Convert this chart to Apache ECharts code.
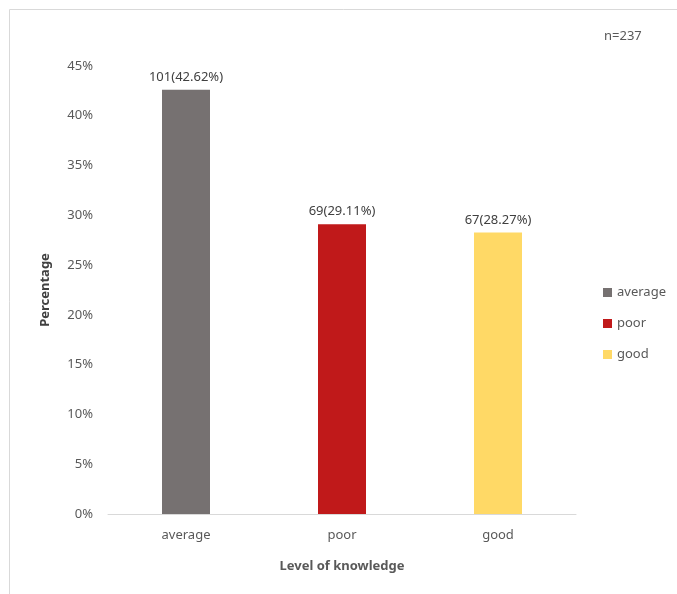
<!DOCTYPE html>
<html>
<head>
<meta charset="utf-8">
<script src="https://cdn.jsdelivr.net/npm/echarts@6/dist/echarts.min.js"></script>
<style>
  html, body { margin: 0; padding: 0; background: #fff; }
  #chart { width: 677px; height: 594px; }
</style>
</head>
<body>
<div id="chart"></div>
<script>
// Knowledge level distribution (n = 237)
const categories = ['average', 'poor', 'good'];
const percentages = [42.62, 29.11, 28.27];
const counts = [101, 69, 67];
const colors = ['#767171', '#C0191A', '#FFD966'];
const yTicks = [0, 5, 10, 15, 20, 25, 30, 35, 40, 45];

const font = "'Noto Sans', 'Liberation Sans', sans-serif";
const textGray = '#595959';

const series = categories.map((name, i) => ({
  name: name,
  type: 'bar',
  stack: 'all',
  barWidth: 48,
  itemStyle: { color: colors[i] },
  data: categories.map((c, j) => (j === i ? percentages[i] : '-')),
  label: {
    show: true,
    position: 'top',
    distance: 6,
    color: '#404040',
    fontFamily: font,
    fontSize: 13,
    formatter: () => counts[i] + '(' + percentages[i].toFixed(2) + '%)'
  }
}));

const chart = echarts.init(document.getElementById('chart'));
chart.setOption({
  animation: false,
  textStyle: { fontFamily: font },
  graphic: [
    { type: 'line', shape: { x1: 9.5, y1: 9.5, x2: 677, y2: 9.5 }, style: { stroke: '#d9d9d9', lineWidth: 1 } },
    { type: 'line', shape: { x1: 9.5, y1: 9.5, x2: 9.5, y2: 594 }, style: { stroke: '#d9d9d9', lineWidth: 1 } },
    { type: 'text', left: 604, top: 30, style: { text: 'n=237', fill: textGray, font: '13px ' + font } }
  ],
  grid: { left: 108, right: 101, top: 66, bottom: 80 },
  legend: {
    orient: 'vertical',
    left: 598,
    top: 281,
    itemWidth: 9,
    itemHeight: 9,
    itemGap: 18,
    icon: 'rect',
    textStyle: { color: textGray, fontSize: 13, fontFamily: font },
    data: categories
  },
  xAxis: {
    type: 'category',
    data: categories,
    name: 'Level of knowledge',
    nameLocation: 'middle',
    nameGap: 46,
    nameTextStyle: { color: textGray, fontSize: 13, fontWeight: 'bold', fontFamily: font },
    axisLine: { lineStyle: { color: '#d9d9d9' } },
    axisTick: { show: false },
    axisLabel: { color: textGray, fontSize: 13, margin: 15, fontFamily: font }
  },
  yAxis: {
    type: 'value',
    min: yTicks[0],
    max: yTicks[yTicks.length - 1],
    interval: 5,
    name: 'Percentage',
    nameLocation: 'middle',
    nameGap: 56,
    nameRotate: 90,
    nameTextStyle: { color: '#404040', fontSize: 13, fontWeight: 'bold', fontFamily: font },
    axisLine: { show: false },
    axisTick: { show: false },
    splitLine: { show: false },
    axisLabel: { color: textGray, fontSize: 13, margin: 15, formatter: v => v + '%', fontFamily: font }
  },
  series: series
});
</script>
</body>
</html>
